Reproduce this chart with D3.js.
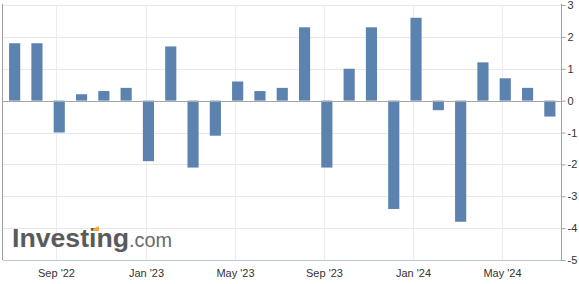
<!DOCTYPE html>
<html>
<head>
<meta charset="utf-8">
<script src="https://cdn.jsdelivr.net/npm/d3@7"></script>
<style>
  body { margin: 0; background: #fff; }
  svg { display: block; font-family: "Liberation Sans", Arial, sans-serif; }
</style>
</head>
<body>
<div id="chart"></div>
<script>
// monthly values, Jul 2022 .. Jul 2024
var months = ["2022-07","2022-08","2022-09","2022-10","2022-11","2022-12",
              "2023-01","2023-02","2023-03","2023-04","2023-05","2023-06",
              "2023-07","2023-08","2023-09","2023-10","2023-11","2023-12",
              "2024-01","2024-02","2024-03","2024-04","2024-05","2024-06","2024-07"];
var values = [1.8, 1.8, -1.0, 0.2, 0.3, 0.4,
              -1.9, 1.7, -2.1, -1.1, 0.6, 0.3,
              0.4, 2.3, -2.1, 1.0, 2.3, -3.4,
              2.6, -0.3, -3.8, 1.2, 0.7, 0.4, -0.5];
var tickMonths = ["2022-09","2023-01","2023-05","2023-09","2024-01","2024-05"];
var tickLabels = ["Sep '22","Jan '23","May '23","Sep '23","Jan '24","May '24"];
var yTicks = [3, 2, 1, 0, -1, -2, -3, -4, -5];

var width = 579, height = 284;
var plotL = 3, plotR = 561, plotT = 5, plotB = 260;

var svg = d3.select("#chart").append("svg")
    .attr("width", width).attr("height", height);

var x = d3.scaleBand().domain(months).range([plotL + 0.5, plotR])
    .paddingInner(0.5).paddingOuter(0.25);
var y = d3.scaleLinear().domain([-5, 3]).range([plotB, plotT]);

function gx(d){ return Math.round(x(d) + x.bandwidth() / 4) + 0.5; }

// horizontal grid
svg.append("g").selectAll("line").data(yTicks).enter().append("line")
    .attr("x1", plotL).attr("x2", plotR)
    .attr("y1", function(d){ return Math.round(y(d)) + 0.5; })
    .attr("y2", function(d){ return Math.round(y(d)) + 0.5; })
    .attr("stroke", "#e8e8e8");

// vertical grid
svg.append("g").selectAll("line").data(tickMonths).enter().append("line")
    .attr("x1", gx).attr("x2", gx)
    .attr("y1", plotT).attr("y2", plotB)
    .attr("stroke", "#ececec");

// logo
var logo = svg.append("g");
logo.append("text").attr("x", 12).attr("y", 247)
    .attr("font-size", 25).attr("font-weight", "bold")
    .attr("textLength", 117).attr("lengthAdjust", "spacingAndGlyphs")
    .attr("fill", "#5a5a5a").text("Investing");
logo.append("text").attr("x", 129).attr("y", 247)
    .attr("font-size", 20).attr("textLength", 43).attr("lengthAdjust", "spacingAndGlyphs")
    .attr("fill", "#6a6a6a").text(".com");
logo.append("path").attr("d", "M93,229 L98,226.5 L99,226.5 L99,231 L93,231 Z").attr("fill", "#f4a732");

// bars
svg.append("g").selectAll("rect").data(values).enter().append("rect")
    .attr("x", function(d, i){ return x(months[i]); })
    .attr("width", x.bandwidth())
    .attr("y", function(d){ return y(Math.max(0, d)); })
    .attr("height", function(d){ return Math.abs(y(d) - y(0)); })
    .attr("fill", "#5c83b0");

// zero line
svg.append("line")
    .attr("x1", plotL).attr("x2", plotR)
    .attr("y1", Math.round(y(0)) + 0.5).attr("y2", Math.round(y(0)) + 0.5)
    .attr("stroke", "#a6a6a6");

// axes lines
svg.append("line").attr("x1", plotL - 0.5).attr("x2", plotL - 0.5)
    .attr("y1", plotT - 1).attr("y2", plotB).attr("stroke", "#a0a0a0");
svg.append("line").attr("x1", plotL).attr("x2", plotR)
    .attr("y1", plotB + 0.5).attr("y2", plotB + 0.5).attr("stroke", "#b7c6d8");

var yAxis = d3.axisRight(y).tickValues(yTicks).tickSize(4).tickPadding(2);
var ya = svg.append("g").attr("transform", "translate(" + (plotR + 0.5) + ",0)").call(yAxis);
ya.select(".domain").attr("stroke", "#a0a0a0").attr("d", "M0," + (plotT - 1) + "V" + (plotB + 1));
ya.selectAll(".tick line").attr("stroke", "#a0a0a0");
ya.selectAll(".tick text").attr("fill", "#333").attr("font-size", 11)
    .attr("font-family", "Liberation Sans, Arial, sans-serif")
    .text(function(d){ return d < 0 ? "-" + Math.abs(d) : d; });

// x labels
svg.append("g").selectAll("text").data(tickMonths).enter().append("text")
    .attr("x", function(d){ return gx(d); })
    .attr("y", 277)
    .attr("text-anchor", "middle")
    .attr("font-size", 11).attr("fill", "#333")
    .text(function(d, i){ return tickLabels[i]; });
</script>
</body>
</html>
